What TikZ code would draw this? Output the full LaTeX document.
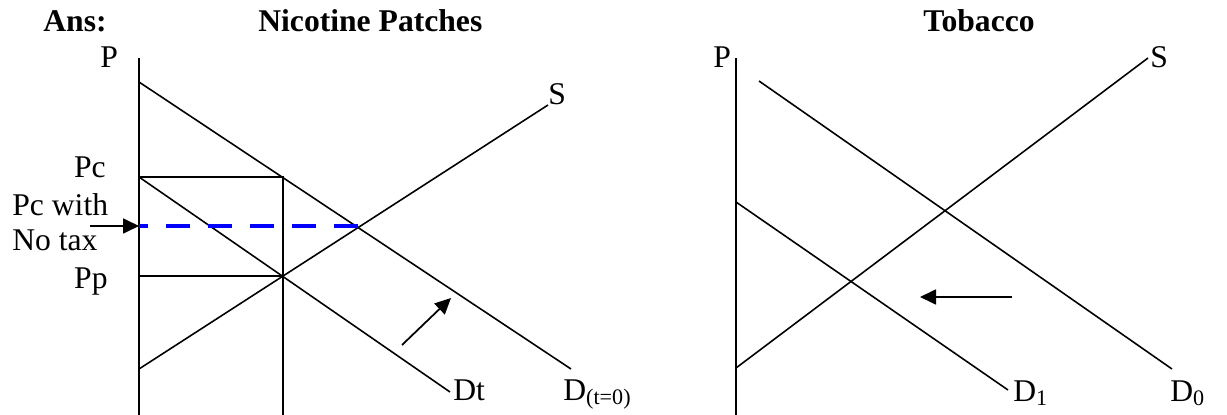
\documentclass[tikz,border=0pt]{standalone}
\usepackage{fontspec}
\setmainfont{Liberation Serif}
\usetikzlibrary{arrows.meta,positioning}

\begin{document}
\begin{tikzpicture}[x=0.02cm,y=-0.02cm,>={Triangle[length=3.2mm,width=3mm]},
  every node/.style={font=\fontsize{18}{22}\selectfont,inner sep=0pt},
  title/.style={anchor=base west,font=\fontsize{18}{22}\selectfont\bfseries},
  lbl/.style={anchor=base west},
  curve/.style={line width=0.9pt},
  axis/.style={line width=1.3pt},
  notax/.style={blue,line width=2.6pt,dash pattern=on 0.48cm off 0.36cm}]
\useasboundingbox (0,0) rectangle (1227,415);
% titles
\node[title] (ans) at (43,32) {Ans:};
\node[title] (patch) at (258,32) {Nicotine Patches};
\node[title] (tob) at (923,32) {Tobacco};

% nicotine patches
\coordinate (ptop) at (139,58);
\coordinate (pbot) at (139,415);
\coordinate (dtop) at (139,82);
\coordinate (dend) at (571,369);
\coordinate (pc) at (139,177);
\coordinate (pcq) at (283,177);
\coordinate (qbot) at (283,415);
\coordinate (pp) at (139,276);
\coordinate (ppq) at (283,276);
\coordinate (dtend) at (450,392);
\coordinate (sbot) at (139,369);
\coordinate (send) at (548,105);
\coordinate (eq) at (358,226);
\coordinate (notax) at (139,226);
\coordinate (ptr) at (90,226);
\coordinate (up0) at (402,345);
\coordinate (up1) at (451,298);
\draw[axis] (ptop)--(pbot);
\draw[curve] (dtop)--(dend);
\draw[curve] (pc)--(dtend);
\draw[curve] (sbot)--(send);
\draw[curve] (pc)--(pcq)--(qbot);
\draw[curve] (pp)--(ppq);
\draw[notax] (eq)--(notax);
\draw[->,line width=1pt] (ptr)--(notax);
\draw[->,line width=1pt] (up0)--(up1);
\node[lbl] (p1) at (100,68) {P};
\node[anchor=base east] (pclbl) at (106,178) {Pc};
\node[lbl] (ntx1) at (12,215) {Pc with};
\node[lbl] (ntx2) at (12,251) {No tax};
\node[anchor=base east] (pplbl) at (108,288) {Pp};
\node[lbl] (s1) at (548,105) {S};
\node[lbl] (dt) at (453,400) {Dt};
\node[lbl] (d0t) at (563,400) {D\textsubscript{(t=0)}};

% tobacco
\coordinate (ptop2) at (736,58);
\coordinate (pbot2) at (736,415);
\coordinate (d0top) at (759,81);
\coordinate (d0end) at (1172,369);
\coordinate (s2bot) at (736,368);
\coordinate (s2end) at (1148,58);
\coordinate (d1top) at (736,202);
\coordinate (d1end) at (1008,390);
\coordinate (lf0) at (1012,297);
\coordinate (lf1) at (920,297);
\draw[axis] (ptop2)--(pbot2);
\draw[curve] (d0top)--(d0end);
\draw[curve] (s2bot)--(s2end);
\draw[curve] (d1top)--(d1end);
\draw[->,line width=1pt] (lf0)--(lf1);
\node[lbl] (p2) at (713,68) {P};
\node[lbl] (s2) at (1150,68) {S};
\node[lbl] (d1) at (1013,401) {D\textsubscript{1}};
\node[lbl] (d0) at (1170,401) {D\textsubscript{0}};
\end{tikzpicture}
\end{document}
